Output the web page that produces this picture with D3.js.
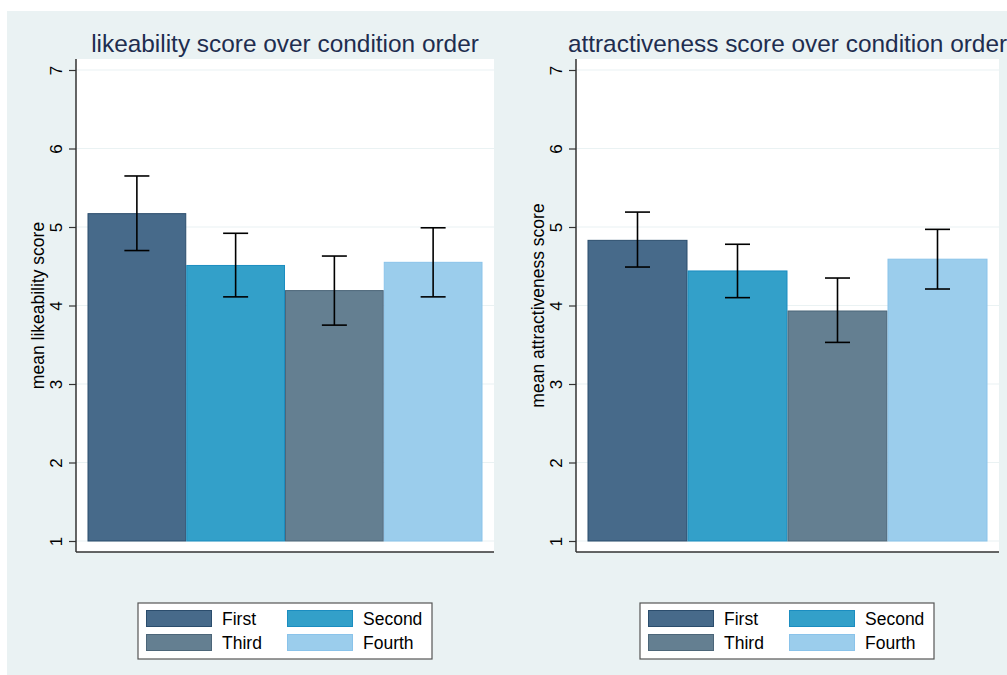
<!DOCTYPE html>
<html>
<head>
<meta charset="utf-8">
<script src="https://cdn.jsdelivr.net/npm/d3@7"></script>
<style>
  html, body { margin: 0; padding: 0; background: #ffffff; }
  svg { display: block; font-family: "Liberation Sans", Arial, Helvetica, sans-serif; }
</style>
</head>
<body>
<svg id="chart" width="1007" height="675"></svg>
<script>
// Condition order categories (one bar each)
const conditions = ["First", "Second", "Third", "Fourth"];

// Likeability: means and error bar bounds
const likeMean  = [5.17, 4.51, 4.19, 4.55];
const likeLower = [4.70, 4.11, 3.75, 4.11];
const likeUpper = [5.65, 4.92, 4.63, 4.99];

// Attractiveness: means and error bar bounds
const attrMean  = [4.83, 4.44, 3.93, 4.59];
const attrLower = [4.49, 4.10, 3.53, 4.21];
const attrUpper = [5.19, 4.78, 4.35, 4.97];

const yTicks = [1, 2, 3, 4, 5, 6, 7];

const panelTitles = ["likeability score over condition order", "attractiveness score over condition order"];
const yTitles = ["mean likeability score", "mean attractiveness score"];

const fills   = ["#476a8a", "#33a0c9", "#647f91", "#9bcdec"];
const strokes = ["#2b4d6d", "#1b8dc0", "#4c6679", "#8ac3ea"];

const svg = d3.select("#chart");

// Outer graph region
svg.append("rect").attr("x", 7).attr("y", 11).attr("width", 1000).attr("height", 664).attr("fill", "#eaf2f3");

const panels = [
  { left: 76, right: 494, mean: likeMean, lo: likeLower, hi: likeUpper, legendX: 138 },
  { left: 576, right: 999, mean: attrMean, lo: attrLower, hi: attrUpper, legendX: 640 }
];

const plotTop = 59, plotBottom = 552;

const y = d3.scaleLinear().domain([1, 7]).range([541, 70]);

panels.forEach((p, i) => {
  const g = svg.append("g");

  // plot region
  g.append("rect").attr("x", p.left).attr("y", plotTop)
    .attr("width", p.right - p.left).attr("height", plotBottom - plotTop)
    .attr("fill", "#ffffff");

  // gridlines
  g.selectAll(".grid").data(yTicks).join("line")
    .attr("x1", p.left).attr("x2", p.right)
    .attr("y1", d => y(d)).attr("y2", d => y(d))
    .attr("stroke", "#eaf2f3").attr("stroke-width", 1.2);

  const x = d3.scaleBand().domain(conditions)
    .range([p.left + 11.5, p.right - 11.5]).paddingInner(0).paddingOuter(0);

  // bars
  g.selectAll(".bar").data(conditions).join("rect")
    .attr("x", d => x(d) + 0.5)
    .attr("width", x.bandwidth() - 1)
    .attr("y", (d, j) => y(p.mean[j]))
    .attr("height", (d, j) => y(1) - y(p.mean[j]))
    .attr("fill", (d, j) => fills[j])
    .attr("stroke", (d, j) => strokes[j])
    .attr("stroke-width", 1);

  // error bars
  const cap = 12.5;
  const eb = g.selectAll(".eb").data(conditions).join("g")
    .attr("stroke", "#000").attr("stroke-width", 1.6).attr("fill", "none");
  eb.append("line")
    .attr("x1", d => x(d) + x.bandwidth() / 2).attr("x2", d => x(d) + x.bandwidth() / 2)
    .attr("y1", (d, j) => y(p.lo[j])).attr("y2", (d, j) => y(p.hi[j]));
  eb.append("line")
    .attr("x1", d => x(d) + x.bandwidth() / 2 - cap).attr("x2", d => x(d) + x.bandwidth() / 2 + cap)
    .attr("y1", (d, j) => y(p.hi[j])).attr("y2", (d, j) => y(p.hi[j]));
  eb.append("line")
    .attr("x1", d => x(d) + x.bandwidth() / 2 - cap).attr("x2", d => x(d) + x.bandwidth() / 2 + cap)
    .attr("y1", (d, j) => y(p.lo[j])).attr("y2", (d, j) => y(p.lo[j]));

  // y axis
  const axis = d3.axisLeft(y).tickValues(yTicks).tickSize(7).tickPadding(0).tickFormat(d3.format("d"));
  const ag = g.append("g").attr("transform", `translate(${p.left},0)`).call(axis);
  ag.select(".domain").remove();
  ag.selectAll(".tick line").attr("stroke", "#333").attr("stroke-width", 1.2);
  ag.selectAll(".tick text")
    .attr("x", null).attr("dy", null)
    .attr("transform", "translate(-14,0) rotate(-90)")
    .attr("text-anchor", "middle")
    .attr("font-size", 17)
    .attr("fill", "#000");

  // axis lines
  g.append("line").attr("x1", p.left).attr("x2", p.left).attr("y1", plotTop).attr("y2", plotBottom)
    .attr("stroke", "#333").attr("stroke-width", 1.5);
  g.append("line").attr("x1", p.left).attr("x2", p.right).attr("y1", plotBottom).attr("y2", plotBottom)
    .attr("stroke", "#333").attr("stroke-width", 1.5);

  // y title
  g.append("text")
    .attr("transform", `translate(${p.left - 32},${(plotTop + plotBottom) / 2}) rotate(-90)`)
    .attr("text-anchor", "middle").attr("font-size", 17.5).attr("fill", "#000")
    .text(yTitles[i]);

  // panel title
  g.append("text")
    .attr("x", (p.left + p.right) / 2).attr("y", 52)
    .attr("text-anchor", "middle").attr("font-size", 24.4).attr("fill", "#1e2d4f")
    .text(panelTitles[i]);

  // legend
  const lg = g.append("g").attr("transform", `translate(${p.legendX},603)`);
  lg.append("rect").attr("width", 294).attr("height", 56)
    .attr("fill", "#fff").attr("stroke", "#555").attr("stroke-width", 1.2);
  conditions.forEach((c, j) => {
    const col = j % 2, row = Math.floor(j / 2);
    const item = lg.append("g").attr("transform", `translate(${8 + col * 141},${7 + row * 24})`);
    item.append("rect").attr("x", 0.5).attr("y", 0.5).attr("width", 65).attr("height", 16)
      .attr("fill", fills[j]).attr("stroke", strokes[j]).attr("stroke-width", 1);
    item.append("text").attr("x", 76).attr("y", 15).attr("font-size", 17.5).attr("fill", "#000").text(c);
  });
});
</script>
</body>
</html>
